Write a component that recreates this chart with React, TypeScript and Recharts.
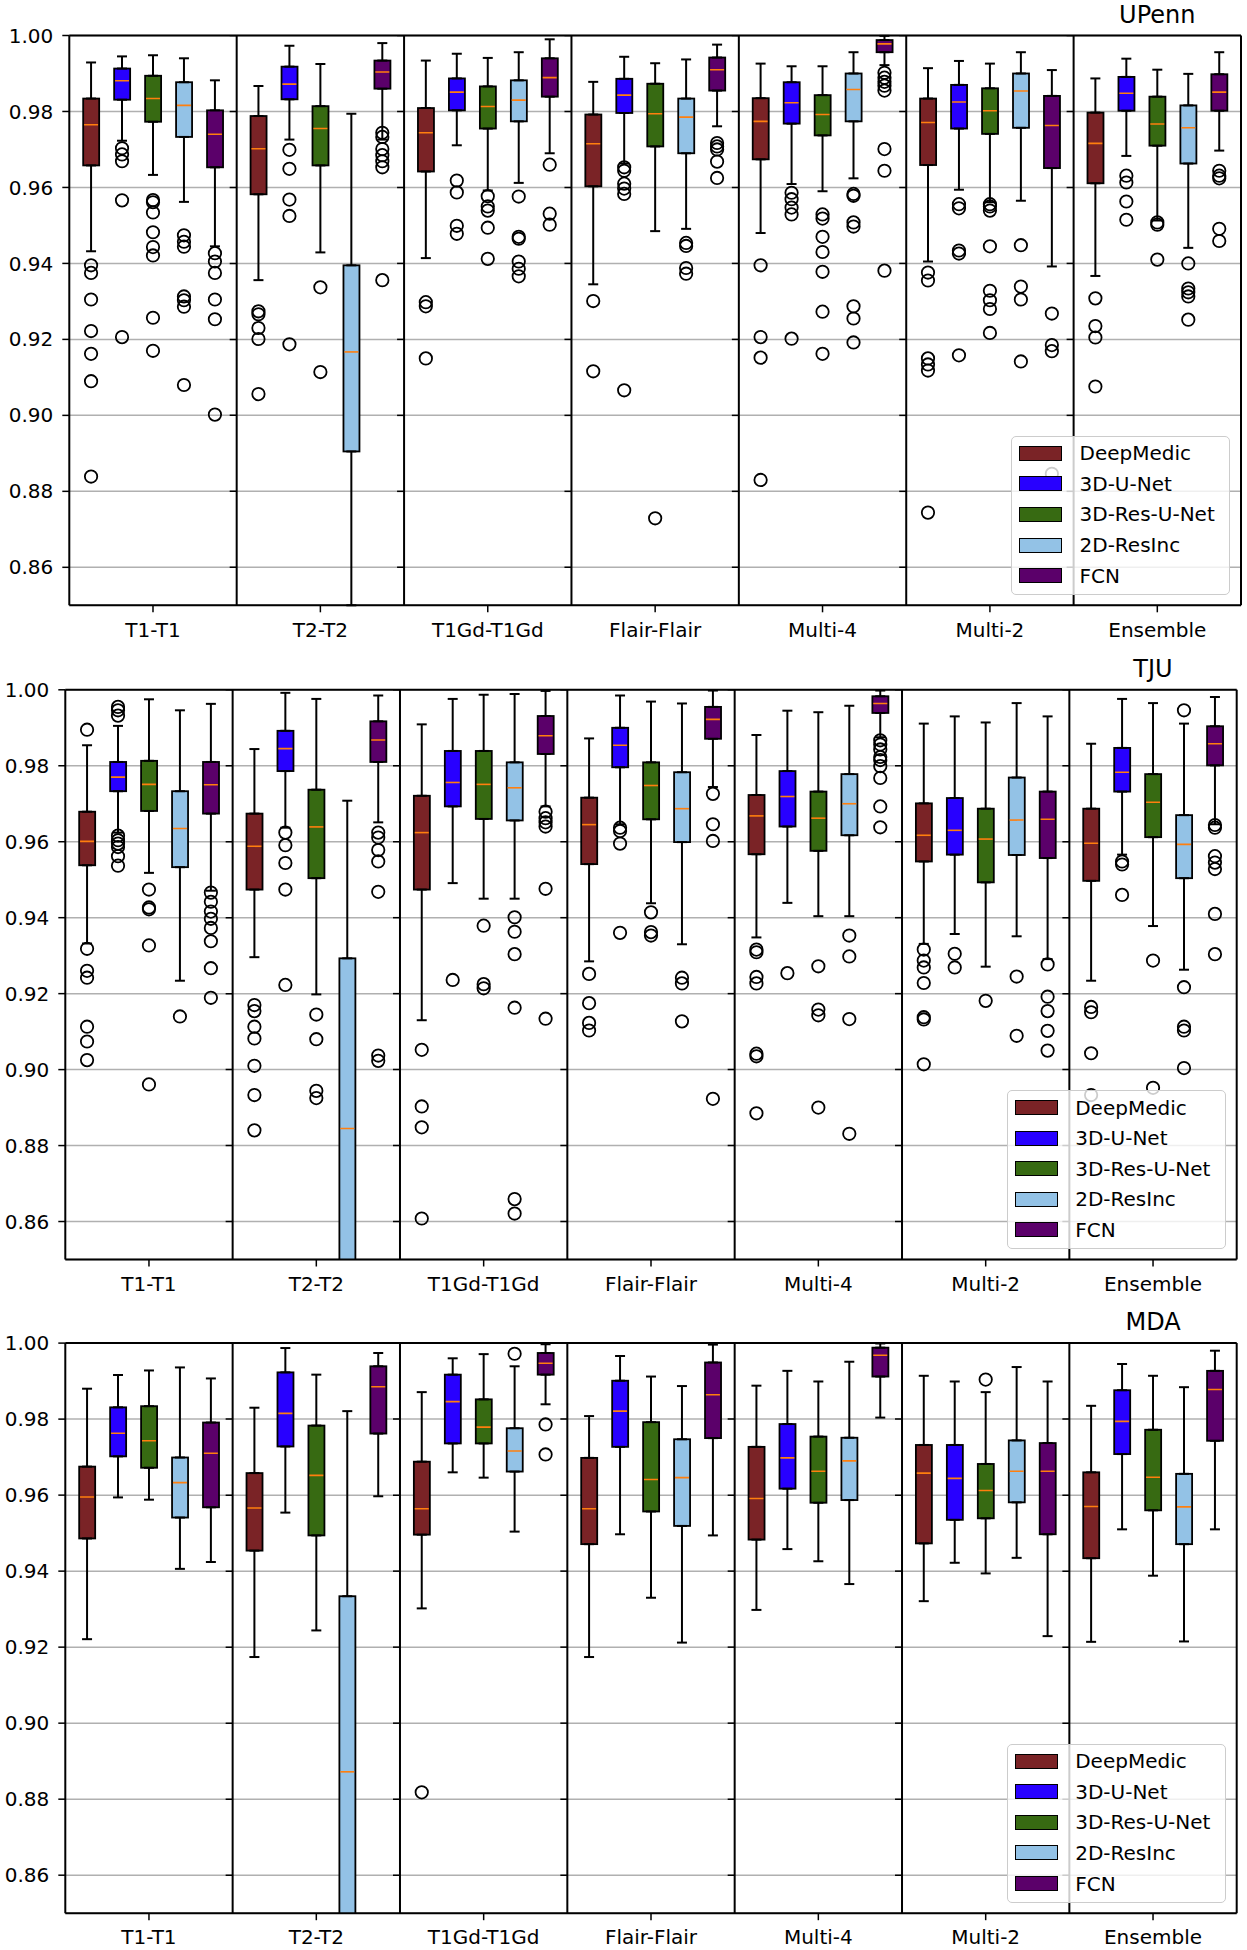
import {
  Bar,
  CartesianGrid,
  ComposedChart,
  ErrorBar,
  ReferenceLine,
  Scatter,
  XAxis,
  YAxis,
} from 'recharts'

const GROUPS = ['T1-T1', 'T2-T2', 'T1Gd-T1Gd', 'Flair-Flair', 'Multi-4', 'Multi-2', 'Ensemble']
const MODELS = ['DeepMedic', '3D-U-Net', '3D-Res-U-Net', '2D-ResInc', 'FCN']
const MODEL_COLORS = ['#7a2326', '#2800ff', '#376a12', '#93c2e6', '#5b006a']
const Y_TICKS = [0.86, 0.88, 0.9, 0.92, 0.94, 0.96, 0.98, 1.0]
const Y_MIN = 0.85

// box stats, [group][model]: whisker top, q3, median, q1, whisker bottom
const UPENN_HI = [
  [0.9929, 0.9945, 0.9948, 0.994, 0.9882],
  [0.9867, 0.9973, 0.9925, 0.9794, 0.998],
  [0.9934, 0.9952, 0.9941, 0.9956, 0.999],
  [0.9878, 0.9944, 0.9927, 0.9937, 0.9976],
  [0.9926, 0.9919, 0.9919, 0.9956, 0.9999],
  [0.9914, 0.9933, 0.9926, 0.9956, 0.9909],
  [0.9887, 0.9939, 0.991, 0.9899, 0.9956],
]
const UPENN_Q3 = [
  [0.9834, 0.9913, 0.9894, 0.9877, 0.9803],
  [0.9788, 0.9918, 0.9814, 0.9395, 0.9934],
  [0.9809, 0.9887, 0.9866, 0.9882, 0.994],
  [0.9792, 0.9886, 0.9873, 0.9834, 0.9942],
  [0.9835, 0.9877, 0.9843, 0.99, 0.9988],
  [0.9834, 0.987, 0.9861, 0.99, 0.9841],
  [0.9797, 0.9891, 0.9839, 0.9816, 0.9898],
]
const UPENN_MED = [
  [0.9765, 0.9881, 0.9834, 0.9816, 0.974],
  [0.9702, 0.9872, 0.9755, 0.9167, 0.9904],
  [0.9744, 0.9851, 0.9813, 0.983, 0.9889],
  [0.9715, 0.9843, 0.9794, 0.9785, 0.991],
  [0.9774, 0.9823, 0.9792, 0.9858, 0.9978],
  [0.9771, 0.9825, 0.9802, 0.9854, 0.9763],
  [0.9716, 0.9848, 0.9767, 0.9757, 0.9851],
]
const UPENN_Q1 = [
  [0.9658, 0.9831, 0.9773, 0.9733, 0.9653],
  [0.9582, 0.9832, 0.9658, 0.8905, 0.986],
  [0.9642, 0.9803, 0.9755, 0.9774, 0.9839],
  [0.9603, 0.9796, 0.9708, 0.969, 0.9855],
  [0.9674, 0.9768, 0.9737, 0.9774, 0.9956],
  [0.9659, 0.9755, 0.9741, 0.9757, 0.9651],
  [0.9611, 0.9802, 0.971, 0.9663, 0.9802],
]
const UPENN_LO = [
  [0.9432, 0.9723, 0.9633, 0.9562, 0.9445],
  [0.9356, 0.9726, 0.9429, 0.8, 0.9726],
  [0.9414, 0.9711, 0.9592, 0.9612, 0.969],
  [0.9345, 0.9663, 0.9485, 0.9491, 0.9761],
  [0.948, 0.9609, 0.959, 0.9624, 0.9922],
  [0.9405, 0.9594, 0.9561, 0.9565, 0.9392],
  [0.9367, 0.9683, 0.9513, 0.9441, 0.9697],
]
const UPENN_OUTLIERS = [
  [
    [0.9395, 0.9375, 0.9305, 0.9222, 0.9162, 0.909, 0.8839],
    [0.9703, 0.9687, 0.9669, 0.9566, 0.9206],
    [0.9567, 0.9561, 0.9534, 0.9482, 0.9443, 0.9421, 0.9257, 0.917],
    [0.9474, 0.9457, 0.9444, 0.9313, 0.9303, 0.9286, 0.908],
    [0.9427, 0.9405, 0.9375, 0.9305, 0.9253, 0.9002],
  ],
  [
    [0.9274, 0.9266, 0.923, 0.9201, 0.9056],
    [0.9699, 0.9649, 0.9568, 0.9525, 0.9187],
    [0.9337, 0.9114],
    [],
    [0.9744, 0.9733, 0.9701, 0.9685, 0.9669, 0.9653, 0.9356],
  ],
  [
    [0.9298, 0.9287, 0.915],
    [0.9618, 0.9587, 0.9499, 0.9478],
    [0.9577, 0.955, 0.9539, 0.9494, 0.9412],
    [0.9576, 0.947, 0.9465, 0.9405, 0.9386, 0.9366],
    [0.966, 0.9531, 0.9502],
  ],
  [
    [0.9301, 0.9116],
    [0.9653, 0.9644, 0.961, 0.9597, 0.9583, 0.9066],
    [0.8729],
    [0.9454, 0.9446, 0.9388, 0.9373],
    [0.9717, 0.9708, 0.97, 0.9668, 0.9625],
  ],
  [
    [0.9395, 0.9206, 0.9152, 0.883],
    [0.9586, 0.9569, 0.9547, 0.9529, 0.9202],
    [0.9529, 0.9518, 0.947, 0.943, 0.9378, 0.9273, 0.9162],
    [0.9583, 0.9578, 0.9508, 0.9497, 0.9287, 0.9255, 0.9192],
    [0.9902, 0.9889, 0.9878, 0.9868, 0.9855, 0.9701, 0.9644, 0.9381],
  ],
  [
    [0.9376, 0.9355, 0.915, 0.9134, 0.9118, 0.8744],
    [0.9556, 0.9545, 0.9434, 0.9426, 0.9158],
    [0.9556, 0.955, 0.9539, 0.9445, 0.9328, 0.9303, 0.928, 0.9217],
    [0.9448, 0.9339, 0.9305, 0.9142],
    [0.9268, 0.9185, 0.9169, 0.8846],
  ],
  [
    [0.9308, 0.9235, 0.9205, 0.9076],
    [0.9631, 0.9613, 0.9563, 0.9515],
    [0.9508, 0.9502, 0.941],
    [0.94, 0.9334, 0.9324, 0.9313, 0.9252],
    [0.9644, 0.9631, 0.9624, 0.9491, 0.9459],
  ],
]

const TJU_HI = [
  [0.9854, 0.9905, 0.9975, 0.9946, 0.9963],
  [0.9844, 0.9992, 0.9976, 0.9708, 0.9985],
  [0.9909, 0.9976, 0.9987, 0.9989, 0.9997],
  [0.9872, 0.9985, 0.9969, 0.9964, 0.9998],
  [0.9881, 0.9945, 0.9941, 0.9958, 0.9998],
  [0.9911, 0.993, 0.9914, 0.9965, 0.993],
  [0.9858, 0.9976, 0.9965, 0.9911, 0.9981],
]
const TJU_Q3 = [
  [0.9679, 0.981, 0.9813, 0.9733, 0.981],
  [0.9674, 0.9892, 0.9737, 0.9293, 0.9917],
  [0.9721, 0.9839, 0.9839, 0.9809, 0.9931],
  [0.9716, 0.99, 0.9809, 0.9783, 0.9955],
  [0.9723, 0.9786, 0.9732, 0.9778, 0.9983],
  [0.9701, 0.9715, 0.9687, 0.9769, 0.9732],
  [0.9687, 0.9847, 0.9778, 0.967, 0.9904],
]
const TJU_MED = [
  [0.9601, 0.977, 0.9751, 0.9635, 0.975],
  [0.9588, 0.9845, 0.9639, 0.8845, 0.9868],
  [0.9624, 0.9756, 0.9751, 0.9742, 0.9879],
  [0.9645, 0.9854, 0.9748, 0.9687, 0.9922],
  [0.9668, 0.9719, 0.9662, 0.97, 0.9964],
  [0.9617, 0.963, 0.9607, 0.9657, 0.9659],
  [0.9596, 0.9783, 0.9704, 0.9593, 0.9858],
]
const TJU_Q1 = [
  [0.9538, 0.9733, 0.9681, 0.9533, 0.9674],
  [0.9474, 0.9786, 0.9504, 0.83, 0.981],
  [0.9474, 0.9693, 0.966, 0.9656, 0.9831],
  [0.9541, 0.9796, 0.9659, 0.9599, 0.9871],
  [0.9567, 0.964, 0.9576, 0.9617, 0.9939],
  [0.9548, 0.9566, 0.9493, 0.9565, 0.9557],
  [0.9497, 0.9732, 0.9612, 0.9504, 0.9801],
]
const TJU_LO = [
  [0.9332, 0.9624, 0.9518, 0.9234, 0.9471],
  [0.9296, 0.9637, 0.9198, 0.8, 0.9651],
  [0.913, 0.9491, 0.945, 0.945, 0.9693],
  [0.9285, 0.9646, 0.9438, 0.933, 0.9744],
  [0.9348, 0.9439, 0.9404, 0.9404, 0.9875],
  [0.9331, 0.9357, 0.9271, 0.9351, 0.9291],
  [0.9234, 0.9566, 0.9378, 0.9263, 0.9646],
]
const TJU_OUTLIERS = [
  [
    [0.9895, 0.9318, 0.926, 0.9242, 0.9113, 0.9074, 0.9025],
    [0.9955, 0.9946, 0.9932, 0.9616, 0.9604, 0.9595, 0.9586, 0.9562, 0.9537],
    [0.9474, 0.9427, 0.9422, 0.9327, 0.8961],
    [0.914],
    [0.9466, 0.9442, 0.9416, 0.9397, 0.9373, 0.9338, 0.9267, 0.9189],
  ],
  [
    [0.917, 0.9154, 0.9113, 0.9082, 0.901, 0.8933, 0.884],
    [0.9624, 0.9591, 0.9544, 0.9474, 0.9223],
    [0.9145, 0.908, 0.8944, 0.8925],
    [],
    [0.9624, 0.9611, 0.9578, 0.9548, 0.9468, 0.9037, 0.9023],
  ],
  [
    [0.9052, 0.8903, 0.8848, 0.8608],
    [0.9236],
    [0.9379, 0.9225, 0.9214],
    [0.9401, 0.9363, 0.9304, 0.9163, 0.8659, 0.8621],
    [0.9679, 0.9662, 0.9651, 0.964, 0.9476, 0.9134],
  ],
  [
    [0.9252, 0.9175, 0.9123, 0.9103],
    [0.9637, 0.9628, 0.9595, 0.936],
    [0.9414, 0.9362, 0.9353],
    [0.9242, 0.9227, 0.9127],
    [0.9726, 0.9646, 0.9602, 0.8923],
  ],
  [
    [0.9316, 0.9309, 0.9244, 0.9227, 0.9042, 0.9035, 0.8885],
    [0.9254],
    [0.9272, 0.9158, 0.9143, 0.89],
    [0.9353, 0.9298, 0.9133, 0.8831],
    [0.9867, 0.9856, 0.9843, 0.9823, 0.9815, 0.9799, 0.9768, 0.9693, 0.9638],
  ],
  [
    [0.9316, 0.9287, 0.9269, 0.9228, 0.9138, 0.9132, 0.9014],
    [0.9305, 0.9269],
    [0.9181],
    [0.9245, 0.9089],
    [0.9277, 0.9192, 0.9154, 0.9102, 0.905],
  ],
  [
    [0.9165, 0.9151, 0.9043, 0.8933],
    [0.9548, 0.954, 0.946],
    [0.9287, 0.8952],
    [0.9946, 0.9217, 0.9113, 0.9103, 0.9004],
    [0.9644, 0.9637, 0.9562, 0.9545, 0.9528, 0.941, 0.9304],
  ],
]

const MDA_HI = [
  [0.988, 0.9916, 0.9928, 0.9936, 0.9907],
  [0.983, 0.9987, 0.9917, 0.9821, 0.9974],
  [0.9871, 0.996, 0.9971, 0.9939, 0.9997],
  [0.9808, 0.9966, 0.9912, 0.9887, 0.9996],
  [0.9888, 0.9927, 0.9899, 0.9951, 0.9999],
  [0.9914, 0.9899, 0.9871, 0.9937, 0.9899],
  [0.9835, 0.9945, 0.9914, 0.9884, 0.998],
]
const MDA_Q3 = [
  [0.9675, 0.9831, 0.9834, 0.9699, 0.9791],
  [0.9658, 0.9923, 0.9783, 0.9334, 0.9939],
  [0.9688, 0.9917, 0.9852, 0.9776, 0.9974],
  [0.9698, 0.9901, 0.9792, 0.9747, 0.9949],
  [0.9727, 0.9787, 0.9754, 0.9751, 0.9988],
  [0.9732, 0.9732, 0.9682, 0.9744, 0.9737],
  [0.966, 0.9876, 0.9772, 0.9656, 0.9927],
]
const MDA_MED = [
  [0.9595, 0.9763, 0.9743, 0.9633, 0.971],
  [0.9566, 0.9815, 0.9652, 0.8872, 0.9885],
  [0.9564, 0.9846, 0.9779, 0.9716, 0.9947],
  [0.9564, 0.9821, 0.9641, 0.9646, 0.9864],
  [0.9591, 0.9698, 0.9663, 0.969, 0.9968],
  [0.9658, 0.9644, 0.9612, 0.9663, 0.9663],
  [0.957, 0.9794, 0.9647, 0.9569, 0.9878],
]
const MDA_Q1 = [
  [0.9486, 0.9702, 0.9672, 0.9541, 0.9568],
  [0.9454, 0.9728, 0.9494, 0.83, 0.9762],
  [0.9496, 0.9736, 0.9736, 0.9662, 0.9917],
  [0.9471, 0.9727, 0.9557, 0.9519, 0.975],
  [0.9483, 0.9617, 0.958, 0.9587, 0.9912],
  [0.9473, 0.9535, 0.9539, 0.9581, 0.9497],
  [0.9434, 0.9708, 0.956, 0.9471, 0.9743],
]
const MDA_LO = [
  [0.9221, 0.9594, 0.9588, 0.9406, 0.9424],
  [0.9174, 0.9554, 0.9244, 0.8, 0.9597],
  [0.9302, 0.966, 0.9646, 0.9504, 0.9839],
  [0.9174, 0.9497, 0.933, 0.9212, 0.9494],
  [0.9298, 0.9458, 0.9426, 0.9366, 0.9804],
  [0.9321, 0.9422, 0.9394, 0.9435, 0.9229],
  [0.9214, 0.951, 0.9388, 0.9215, 0.951],
]
const MDA_OUTLIERS = [
  [[], [], [], [], []],
  [[], [], [], [], []],
  [[0.8818], [], [], [0.9972], [0.9786, 0.9707]],
  [[], [], [], [], []],
  [[], [], [], [], []],
  [[], [], [0.9904], [], []],
  [[], [], [], [], []],
]

const W = 1247
const PANEL_H = 650
const BOX_W = 16
const OFFSETS = [-0.37, -0.185, 0, 0.185, 0.37]
const GROUP_TICKS = GROUPS.map((_, i) => i + 0.5)
const SEPARATORS = [1, 2, 3, 4, 5, 6]

type Box = { x: number; hi: number; q3: number; med: number; q1: number; lo: number; color: string }

function buildBoxes(hi: number[][], q3: number[][], med: number[][], q1: number[][], lo: number[][]) {
  const rows: Box[] = []
  GROUPS.forEach((_, g) =>
    MODELS.forEach((__, m) =>
      rows.push({
        x: g + 0.5 + OFFSETS[m],
        hi: hi[g][m],
        q3: q3[g][m],
        med: med[g][m],
        q1: q1[g][m],
        lo: lo[g][m],
        color: MODEL_COLORS[m],
      }),
    ),
  )
  return rows
}

function buildOutliers(out: number[][][]) {
  const pts: { x: number; y: number }[] = []
  out.forEach((grp, g) => grp.forEach((vals, m) => vals.forEach((y) => pts.push({ x: g + 0.5 + OFFSETS[m], y }))))
  return pts
}

const SEP_TICKS = SEPARATORS.flatMap((x) => Y_TICKS.map((y) => ({ x, y })))

const PANELS = [
  {
    title: 'UPenn',
    top: 0,
    plotTop: 35.5,
    plotBottom: 605.3,
    plotLeft: 69.3,
    plotRight: 1241,
    boxes: buildBoxes(UPENN_HI, UPENN_Q3, UPENN_MED, UPENN_Q1, UPENN_LO),
    outliers: buildOutliers(UPENN_OUTLIERS),
  },
  {
    title: 'TJU',
    top: 650,
    plotTop: 39.8,
    plotBottom: 609.5,
    plotLeft: 65.3,
    plotRight: 1236.7,
    boxes: buildBoxes(TJU_HI, TJU_Q3, TJU_MED, TJU_Q1, TJU_LO),
    outliers: buildOutliers(TJU_OUTLIERS),
  },
  {
    title: 'MDA',
    top: 1300,
    plotTop: 43.1,
    plotBottom: 613.2,
    plotLeft: 65.3,
    plotRight: 1236.7,
    boxes: buildBoxes(MDA_HI, MDA_Q3, MDA_MED, MDA_Q1, MDA_LO),
    outliers: buildOutliers(MDA_OUTLIERS),
  },
]

const Empty = () => <g />

const BoxShape = (p: any) => {
  const y = Math.min(p.y, p.y + p.height)
  const h = Math.abs(p.height)
  return (
    <rect x={p.x} y={y} width={p.width} height={h} fill={p.payload.color} stroke="#000" strokeWidth={1.8} />
  )
}

const MedianMark = (p: any) => (
  <line x1={p.cx - BOX_W / 2 + 1} x2={p.cx + BOX_W / 2 - 1} y1={p.cy} y2={p.cy} stroke="#ff7f0e" strokeWidth={1.6} />
)

const OutlierMark = (p: any) => <circle cx={p.cx} cy={p.cy} r={6.2} fill="none" stroke="#000" strokeWidth={1.8} />

const SepTick = (p: any) => <line x1={p.cx - 7} x2={p.cx} y1={p.cy} y2={p.cy} stroke="#000" strokeWidth={1.5} />

function LegendBox({ left, top }: { left: number; top: number }) {
  return (
    <div
      style={{
        position: 'absolute',
        left,
        top,
        width: 219,
        height: 159,
        boxSizing: 'border-box',
        background: 'rgba(255,255,255,0.8)',
        border: '1.3px solid #cccccc',
        borderRadius: 5,
      }}
    >
      {MODELS.map((m, i) => (
        <div key={m}>
          <div
            style={{
              position: 'absolute',
              left: 7,
              top: 16.5 + i * 30.6 - 7.5,
              width: 43,
              height: 15,
              boxSizing: 'border-box',
              background: MODEL_COLORS[i],
              border: '1.8px solid #000',
            }}
          />
          <div
            style={{
              position: 'absolute',
              left: 67.5,
              top: 16.5 + i * 30.6 - 12,
              fontSize: 20,
              lineHeight: '24px',
              color: '#000',
              whiteSpace: 'nowrap',
            }}
          >
            {m}
          </div>
        </div>
      ))}
    </div>
  )
}

function Panel({ spec }: { spec: (typeof PANELS)[number] }) {
  const { title, top, plotTop, plotBottom, plotLeft, plotRight, boxes, outliers } = spec
  const groupW = (plotRight - plotLeft) / 7
  const titleX = plotLeft + 6.5 * groupW
  // lower whiskers only where the box bottom is inside the axis; they stop at the axis floor
  const lowerWhiskers = boxes.filter((b) => b.q1 > Y_MIN)
  return (
    <div style={{ position: 'absolute', left: 0, top, width: W, height: PANEL_H }}>
      <ComposedChart
        width={W}
        height={PANEL_H}
        data={boxes}
        margin={{ top: plotTop, right: W - plotRight, bottom: 0, left: 0 }}
      >
        <CartesianGrid vertical={false} stroke="#b0b0b0" strokeWidth={1.5} />
        <XAxis
          type="number"
          dataKey="x"
          domain={[0, 7]}
          allowDataOverflow
          ticks={GROUP_TICKS}
          interval={0}
          tickFormatter={(v) => GROUPS[Math.round(v - 0.5)]}
          height={PANEL_H - plotBottom}
          tickSize={7}
          tickMargin={10}
          axisLine={{ stroke: '#000', strokeWidth: 2 }}
          tickLine={{ stroke: '#000', strokeWidth: 1.5 }}
          tick={{ fill: '#000', fontSize: 20 }}
        />
        <YAxis
          type="number"
          domain={[Y_MIN, 1]}
          allowDataOverflow
          ticks={Y_TICKS}
          interval={0}
          tickFormatter={(v) => v.toFixed(2)}
          width={plotLeft}
          tickSize={7}
          tickMargin={9}
          axisLine={{ stroke: '#000', strokeWidth: 2 }}
          tickLine={{ stroke: '#000', strokeWidth: 1.5 }}
          tick={{ fill: '#000', fontSize: 20 }}
        />
        {SEPARATORS.map((x) => (
          <ReferenceLine key={x} x={x} stroke="#000" strokeWidth={2} />
        ))}
        <ReferenceLine x={7} stroke="#000" strokeWidth={2} />
        <ReferenceLine y={1} stroke="#000" strokeWidth={2} />
        <Scatter data={SEP_TICKS} dataKey="y" shape={SepTick} isAnimationActive={false} />
        <Scatter data={boxes} dataKey="q3" shape={Empty} isAnimationActive={false}>
          <ErrorBar
            dataKey={(d: Box) => [0, d.hi - d.q3]}
            direction="y"
            width={5}
            stroke="#000"
            strokeWidth={2}
            isAnimationActive={false}
          />
        </Scatter>
        <Scatter data={lowerWhiskers} dataKey="q1" shape={Empty} isAnimationActive={false}>
          <ErrorBar
            dataKey={(d: Box) => [d.q1 - Math.max(d.lo, Y_MIN), 0]}
            direction="y"
            width={5}
            stroke="#000"
            strokeWidth={2}
            isAnimationActive={false}
          />
        </Scatter>
        <Bar dataKey={(d: Box) => [d.q1, d.q3]} barSize={BOX_W} shape={BoxShape} isAnimationActive={false} />
        <Scatter data={boxes} dataKey="med" shape={MedianMark} isAnimationActive={false} />
        <Scatter data={outliers} dataKey="y" shape={OutlierMark} isAnimationActive={false} />
      </ComposedChart>
      <div
        style={{
          position: 'absolute',
          left: titleX - 100,
          top: plotTop - 12.5 - 22.3,
          width: 200,
          textAlign: 'center',
          fontSize: 24,
          lineHeight: '28px',
          color: '#000',
        }}
      >
        {title}
      </div>
      <LegendBox left={plotRight - 11 - 219} top={plotBottom - 10.5 - 159} />
    </div>
  )
}

export default function App() {
  return (
    <div
      style={{
        position: 'absolute',
        left: 0,
        top: 0,
        width: W,
        height: 1950,
        background: '#fff',
        fontFamily: "'DejaVu Sans', sans-serif",
      }}
    >
      {PANELS.map((p) => (
        <Panel key={p.title} spec={p} />
      ))}
    </div>
  )
}
